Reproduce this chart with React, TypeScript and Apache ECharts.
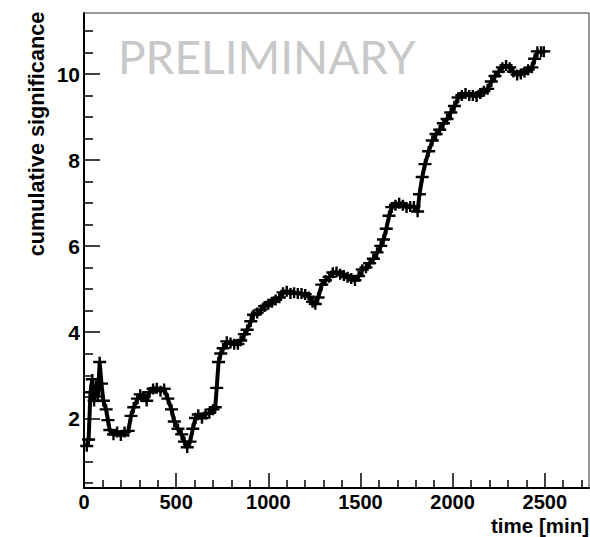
import React, { useEffect, useRef } from "react";
import * as echarts from "echarts";

const timeMin = [
  15, 25, 35, 45, 55, 65, 75, 85, 95, 105, 120, 130, 140, 160, 180, 200, 220, 240, 255, 270,
  290, 305, 320, 340, 355, 375, 395, 415, 435, 455, 475, 490, 510, 530, 545, 560, 575, 590, 605, 620,
  640, 660, 680, 700, 712, 720, 730, 742, 755, 775, 795, 815, 835, 850, 870, 885, 905, 920, 940, 960,
  980, 1000, 1020, 1040, 1060, 1080, 1100, 1120, 1140, 1160, 1180, 1200, 1220, 1240, 1255, 1270, 1290, 1310, 1330, 1350,
  1370, 1390, 1410, 1430, 1450, 1470, 1490, 1510, 1530, 1550, 1570, 1590, 1610, 1625, 1640, 1655, 1670, 1690, 1710, 1730,
  1750, 1770, 1790, 1810, 1820, 1835, 1850, 1870, 1890, 1910, 1930, 1950, 1970, 1990, 2010, 2030, 2050, 2070, 2090, 2110,
  2130, 2150, 2170, 2190, 2210, 2230, 2250, 2270, 2290, 2310, 2330, 2350, 2370, 2390, 2410, 2430, 2445, 2460, 2480, 2495,
];

const significance = [
  1.35, 1.5, 2.6, 2.9, 2.4, 2.75, 2.5, 3.3, 2.8, 2.4, 2.2, 1.95, 1.72, 1.62, 1.68, 1.6, 1.68, 1.7, 2.05, 2.25,
  2.45, 2.55, 2.5, 2.4, 2.6, 2.68, 2.7, 2.63, 2.68, 2.45, 2.2, 1.92, 1.75, 1.62, 1.45, 1.32, 1.45, 1.75, 2.0, 2.08,
  2.0, 2.1, 2.12, 2.2, 2.25, 2.7, 3.3, 3.5, 3.62, 3.78, 3.75, 3.72, 3.72, 3.8, 3.95, 4.05, 4.25, 4.4, 4.45, 4.52,
  4.6, 4.65, 4.7, 4.75, 4.8, 4.92, 4.95, 4.9, 4.92, 4.9, 4.9, 4.88, 4.82, 4.7, 4.65, 4.8, 5.1, 5.2, 5.28, 5.38,
  5.4, 5.35, 5.32, 5.28, 5.25, 5.2, 5.3, 5.45, 5.5, 5.6, 5.7, 5.85, 6.0, 6.15, 6.4, 6.7, 6.9, 6.95, 7.0, 6.95,
  6.9, 6.92, 6.92, 6.8, 7.2, 7.6, 7.9, 8.2, 8.45, 8.6, 8.7, 8.85, 8.95, 9.1, 9.25, 9.45, 9.5, 9.55, 9.5, 9.5,
  9.48, 9.55, 9.6, 9.65, 9.82, 9.95, 10.05, 10.15, 10.2, 10.15, 10.05, 9.98, 10.0, 10.05, 10.1, 10.15, 10.35, 10.52, 10.52, 10.52,
];

const xMajorTicks = [0, 500, 1000, 1500, 2000, 2500];
const xMinorTicks = [
  100, 200, 300, 400, 600, 700, 800, 900, 1100, 1200, 1300, 1400, 1600, 1700, 1800, 1900,
  2100, 2200, 2300, 2400, 2600, 2700,
];
const yMajorTicks = [2, 4, 6, 8, 10];
const yMinorTicks = [0.5, 1, 1.5, 2.5, 3, 3.5, 4.5, 5, 5.5, 6.5, 7, 7.5, 8.5, 9, 9.5, 10.5, 11];

const X_MIN = 0;
const X_MAX = 2740;
const Y_MIN = 0.38;
const Y_MAX = 11.42;

const crossPath = "path://M0,4L13,4L13,6.4L0,6.4Z M5.3,0L7.7,0L7.7,11L5.3,11Z";

export default function App() {
  const ref = useRef<HTMLDivElement>(null);

  useEffect(() => {
    if (!ref.current) return;
    const chart = echarts.init(ref.current, undefined, { renderer: "svg" });
    const fam = "Liberation Sans, Arial, sans-serif";
    chart.setOption({
      animation: false,
      backgroundColor: "#fff",
      grid: {
        left: 84,
        right: 1,
        top: 13,
        bottom: 49,
        show: true,
        borderColor: "#333",
        borderWidth: 1,
        containLabel: false,
      },
      xAxis: [
        {
          type: "value",
          position: "bottom",
          min: X_MIN,
          max: X_MAX,
          axisLine: { show: true, lineStyle: { color: "#000", width: 2 } },
          axisTick: {
            show: true,
            inside: true,
            length: 15,
            customValues: xMajorTicks,
            lineStyle: { color: "#000", width: 1.5 },
          },
          axisLabel: {
            show: true,
            customValues: xMajorTicks,
            margin: 4,
            formatter: (v: number) => String(v),
            fontFamily: fam,
            fontWeight: "bold",
            fontSize: 20,
            lineHeight: 20,
            color: "#000",
          },
          splitLine: { show: false },
        },
        {
          type: "value",
          position: "bottom",
          min: X_MIN,
          max: X_MAX,
          axisLine: { show: false },
          axisTick: {
            show: true,
            inside: true,
            length: 8,
            customValues: xMinorTicks,
            lineStyle: { color: "#000", width: 1.5 },
          },
          axisLabel: { show: false },
          splitLine: { show: false },
        },
      ],
      yAxis: [
        {
          type: "value",
          position: "left",
          min: Y_MIN,
          max: Y_MAX,
          axisLine: { show: true, lineStyle: { color: "#000", width: 2 } },
          axisTick: {
            show: true,
            inside: true,
            length: 16,
            customValues: yMajorTicks,
            lineStyle: { color: "#000", width: 1.5 },
          },
          axisLabel: {
            show: true,
            customValues: yMajorTicks,
            margin: 4,
            formatter: (v: number) => String(v),
            fontFamily: fam,
            fontWeight: "bold",
            fontSize: 21,
            color: "#000",
          },
          splitLine: { show: false },
        },
        {
          type: "value",
          position: "left",
          min: Y_MIN,
          max: Y_MAX,
          axisLine: { show: false },
          axisTick: {
            show: true,
            inside: true,
            length: 9,
            customValues: yMinorTicks,
            lineStyle: { color: "#000", width: 1.5 },
          },
          axisLabel: { show: false },
          splitLine: { show: false },
        },
      ],
      graphic: [
        {
          type: "text",
          x: 118,
          y: 56,
          style: {
            text: "PRELIMINARY",
            fontFamily: "Lato, sans-serif",
            fontSize: 46,
            fill: "#c8c8c8",
            align: "left",
            verticalAlign: "middle",
          },
          z: 0,
        },
        {
          type: "text",
          x: 36,
          y: 134,
          rotation: Math.PI / 2,
          style: {
            text: "cumulative significance",
            fontFamily: fam,
            fontWeight: "bold",
            fontSize: 21.7,
            fill: "#000",
            align: "center",
            verticalAlign: "middle",
          },
        },
        {
          type: "text",
          x: 589,
          y: 525.5,
          style: {
            text: "time [min]",
            fontFamily: fam,
            fontWeight: "bold",
            fontSize: 20.5,
            lineHeight: 20,
            fill: "#000",
            align: "right",
            verticalAlign: "middle",
          },
        },
      ],
      series: [
        {
          type: "line",
          xAxisIndex: 0,
          yAxisIndex: 0,
          data: timeMin.map((t, i) => [t, significance[i]]),
          showSymbol: true,
          showAllSymbol: true,
          symbol: crossPath,
          symbolSize: [13, 11],
          symbolKeepAspect: false,
          itemStyle: { color: "#000" },
          lineStyle: { color: "#000", width: 4 },
          z: 3,
        },
      ],
    });
    return () => chart.dispose();
  }, []);

  return (
    <div
      ref={ref}
      style={{ position: "absolute", left: 0, top: 0, width: 590, height: 537 }}
    />
  );
}
